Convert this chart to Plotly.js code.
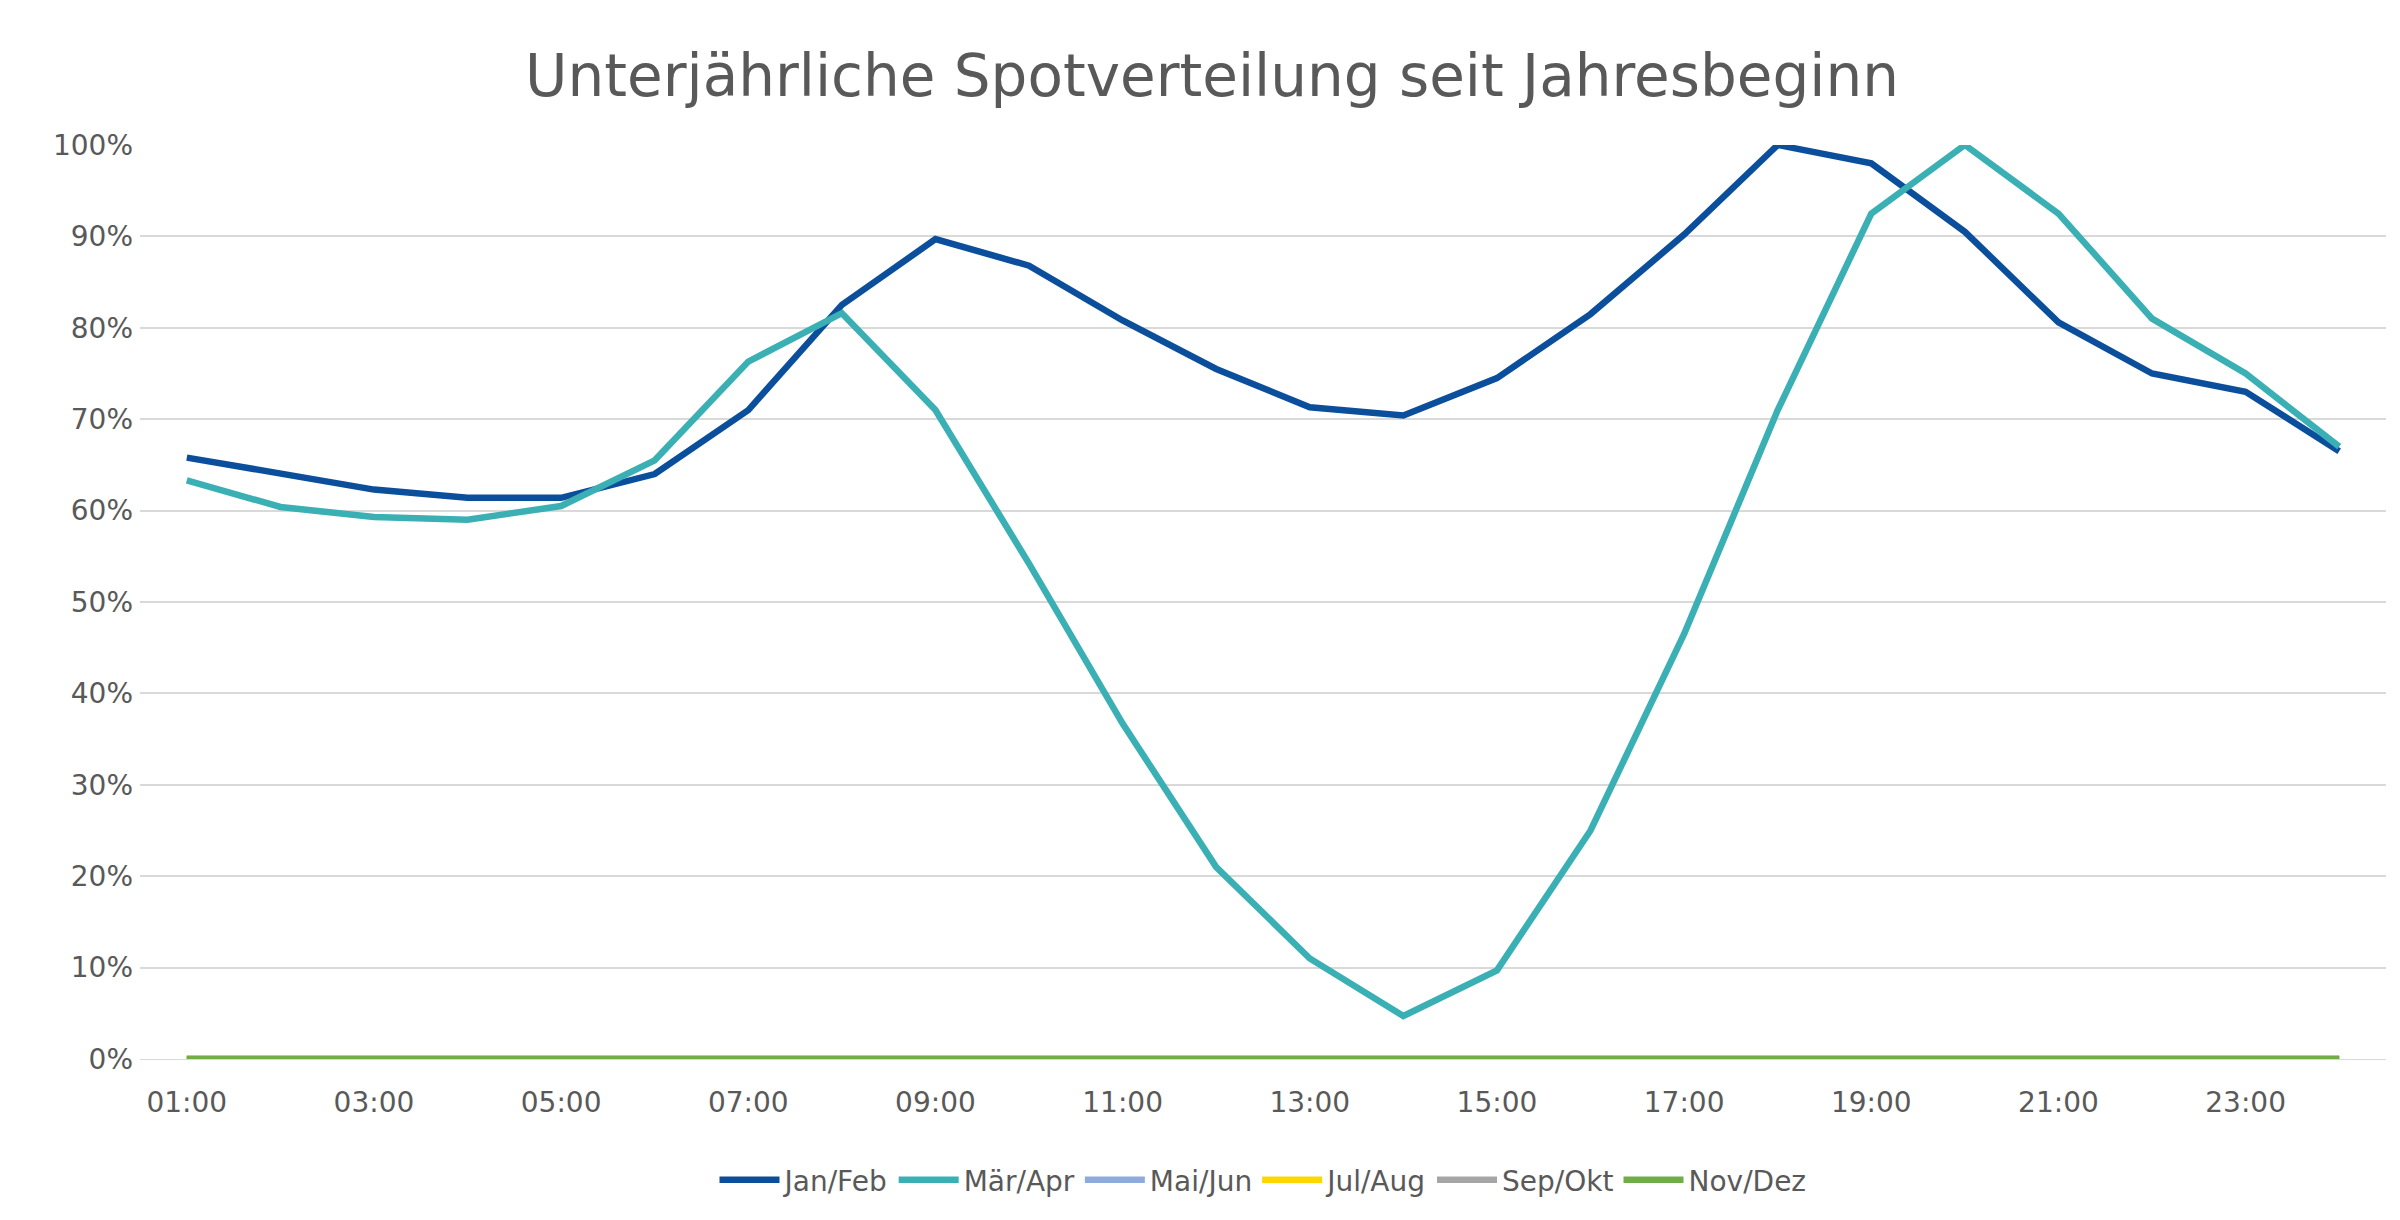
<!DOCTYPE html>
<html><head><meta charset="utf-8">
<script src="https://cdn.plot.ly/plotly-3.0.1.min.js"></script>
<style>body{margin:0;background:#fff}#chart{width:2400px;height:1220px}</style>
</head><body><div id="chart"></div>
<script>
const hours = ["01:00","02:00","03:00","04:00","05:00","06:00","07:00","08:00","09:00","10:00","11:00","12:00",
  "13:00","14:00","15:00","16:00","17:00","18:00","19:00","20:00","21:00","22:00","23:00","24:00"];
const janFeb = [0.658,0.640,0.623,0.614,0.614,0.640,0.710,0.825,0.897,0.868,0.808,0.755,0.713,0.704,0.745,0.815,0.902,1.000,0.980,0.905,0.806,0.750,0.730,0.665];
const maerApr = [0.633,0.604,0.593,0.590,0.605,0.655,0.763,0.816,0.710,0.542,0.367,0.210,0.110,0.047,0.097,0.250,0.465,0.710,0.925,1.000,0.925,0.810,0.750,0.670];
const zeros = hours.map(() => 0);
const names = ["Jan/Feb","Mär/Apr","Mai/Jun","Jul/Aug","Sep/Okt","Nov/Dez"];
const colors = ["#0b4f9c","#3ab0b5","#8faadc","#ffd700","#a5a5a5","#70ad47"];
const series = [janFeb, maerApr, zeros, zeros, zeros, zeros];

const traces = series.map((y, i) => ({
  x: hours, y: y, name: names[i], type: 'scatter', mode: 'lines',
  line: { color: colors[i], width: 6.5 }
}));

Plotly.newPlot('chart', traces, {
  width: 2400, height: 1220,
  font: { family: 'DejaVu Sans, sans-serif', color: '#595959', size: 28 },
  title: { text: 'Unterjährliche Spotverteilung seit Jahresbeginn', font: { size: 58, color: '#595959' }, x: 0.505, y: 0.955 },
  margin: { l: 140, r: 14, t: 145, b: 161 },
  xaxis: { type: 'category', range: [-0.5, 23.5], tickvals: hours.filter((h, i) => i % 2 === 0),
    showgrid: false, showline: true, linecolor: '#d9d9d9', ticks: '', ticklabelstandoff: 18 },
  yaxis: { range: [0, 1.0], dtick: 0.1, tickformat: '.0%', gridcolor: '#d9d9d9', gridwidth: 2,
    zeroline: false, ticks: '', showline: false, ticklabelstandoff: 6 },
  legend: { orientation: 'h', x: 0.5, xanchor: 'center', y: -0.105, yanchor: 'top', font: { size: 28 }, itemwidth: 60 },
  showlegend: true
}, { displayModeBar: false });
</script></body></html>
